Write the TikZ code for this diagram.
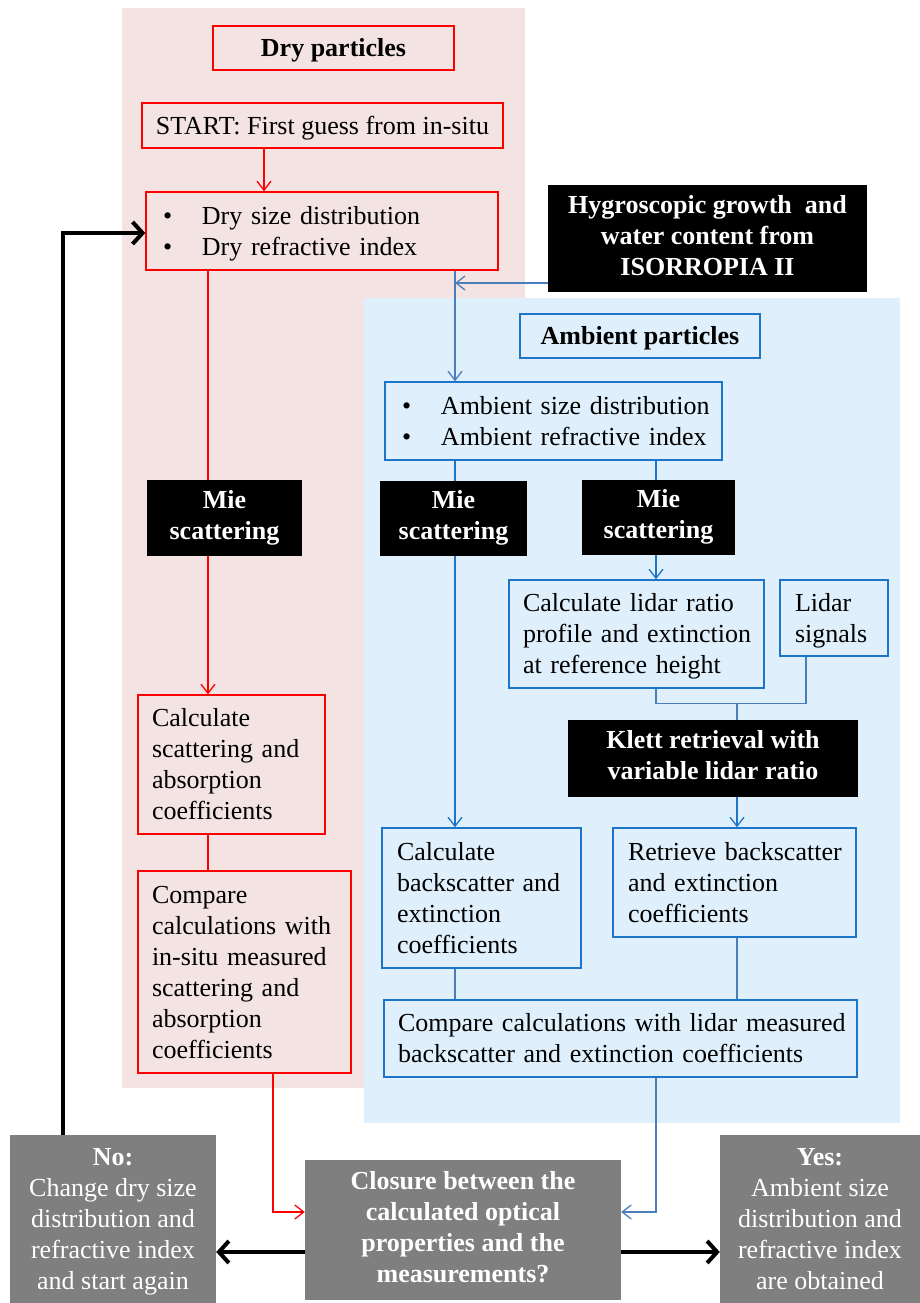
\documentclass[tikz,border=0pt]{standalone}
\usepackage{fontspec}
\setmainfont{Liberation Serif}
\usetikzlibrary{arrows.meta}
\definecolor{pinkbg}{HTML}{F4E3E3}
\definecolor{bluebg}{HTML}{DFF0FC}
\definecolor{bred}{HTML}{FF0000}
\definecolor{bblue}{HTML}{1C75C8}
\definecolor{lblue}{HTML}{4A7EBB}
\definecolor{gfill}{HTML}{7F7F7F}
\newcommand\bul[1]{\mbox{\makebox[39pt][l]{•}#1}}
\newcommand\ml[1]{\mbox{#1}}
\newcommand\mystrut{\rule[-6.8pt]{0pt}{31pt}}
\begin{document}
\begin{tikzpicture}[x=1pt,y=-1pt,
  every node/.style={font=\fontsize{26pt}{31pt}\selectfont, inner sep=0pt,
    execute at begin node=\mystrut, execute at end node=\mystrut},
  bfnode/.style={font=\fontsize{26pt}{31pt}\selectfont\bfseries},
  redbox/.style={draw=bred, line width=1.5pt},
  bluebox/.style={draw=bblue, line width=1.5pt},
  blackbox/.style={fill=black, text=white, bfnode, align=center},
  graybox/.style={fill=gfill, text=white, align=center},
  redln/.style={draw=bred, line width=1.3pt},
  blueln/.style={draw=lblue, line width=1.3pt},
  bluelnb/.style={draw=bblue, line width=1.3pt},
  tipped/.style={-{Straight Barb[length=9pt,width=14pt]}},
  blackln/.style={line width=4pt, -{Straight Barb[length=10pt,width=22pt]}},
]
\useasboundingbox (0,0) rectangle (920,1303);
% backgrounds
\fill[pinkbg] (122,8) rectangle (525,1088);
\fill[bluebg] (364,298) rectangle (900,1123);

% nodes
\node[redbox, bfnode, minimum width=241pt, minimum height=44pt] (drypart) at (333.5,48) {Dry particles};
\node[redbox, minimum width=361pt, minimum height=45pt] (start) at (322.5,125.5) {START: First guess from in-situ};
\node[redbox, minimum height=78pt, inner xsep=17pt, text width=318pt, align=left] (dry) at (322,231) {\bul{Dry size distribution}\\\bul{Dry refractive index}};
\node[blackbox, minimum width=319pt, minimum height=107pt] (hygro) at (707.5,238.5) {Hygroscopic growth~ and\\water content from\\ISORROPIA II};
\node[bluebox, bfnode, minimum width=240pt, minimum height=44pt] (ambpart) at (640,336) {Ambient particles};
\node[bluebox, minimum height=78pt, inner xsep=17pt, text width=303pt, align=left] (amb) at (553.5,421) {\bul{Ambient size distribution}\\\bul{Ambient refractive index}};
\node[blackbox, minimum width=155pt, minimum height=76pt] (mieR) at (224.5,518) {Mie\\scattering};
\node[blackbox, minimum width=147pt, minimum height=75pt] (mieA) at (453.5,518.5) {Mie\\scattering};
\node[blackbox, minimum width=153pt, minimum height=75pt] (mieB) at (658.5,517.5) {Mie\\scattering};
\node[bluebox, minimum height=108pt, inner xsep=14pt, text width=227pt, align=left] (ratio) at (636.5,634) {\ml{Calculate lidar ratio}\\\ml{profile and extinction}\\\ml{at reference height}};
\node[bluebox, minimum height=76pt, inner xsep=15pt, text width=78pt, align=left] (signals) at (834,618) {\ml{Lidar}\\\ml{signals}};
\node[blackbox, minimum width=290pt, minimum height=77pt] (klett) at (713,758.5) {Klett retrieval with\\variable lidar ratio};
\node[bluebox, minimum height=140pt, inner xsep=15pt, text width=169pt, align=left] (calcbs) at (481.5,898) {\ml{Calculate}\\\ml{backscatter and}\\\ml{extinction}\\\ml{coefficients}};
\node[bluebox, minimum height=109pt, inner xsep=15pt, text width=213pt, align=left] (retr) at (734.5,882.5) {\ml{Retrieve backscatter}\\\ml{and extinction}\\\ml{coefficients}};
\node[bluebox, minimum height=77pt, inner xsep=14pt, text width=445pt, align=left] (cmpl) at (620.5,1038.5) {\ml{Compare calculations with lidar measured}\\\ml{backscatter and extinction coefficients}};
\node[redbox, minimum height=139pt, inner xsep=14pt, text width=159pt, align=left] (calcsc) at (231.5,764.5) {\ml{Calculate}\\\ml{scattering and}\\\ml{absorption}\\\ml{coefficients}};
\node[redbox, minimum height=202pt, inner xsep=14pt, text width=185pt, align=left] (cmpi) at (244.5,972) {\ml{Compare}\\\ml{calculations with}\\\ml{in-situ measured}\\\ml{scattering and}\\\ml{absorption}\\\ml{coefficients}};
\node[graybox, bfnode, minimum width=316pt, minimum height=140pt] (closure) at (463,1230) {Closure between the\\calculated optical\\properties and the\\measurements?};
\node[graybox, minimum width=206pt, minimum height=174pt] (no) at (113,1222) {\textbf{No:}\\Change dry size\\distribution and\\refractive index\\and start again};
\node[graybox, minimum width=200pt, minimum height=174pt] (yes) at (820,1222) {\textbf{Yes:}\\Ambient size\\distribution and\\refractive index\\are obtained};

% red connectors
\coordinate (a1) at ([xshift=-58.5pt]start.south);
\draw[redln, tipped] (a1) -- (a1 |- dry.north);
\coordinate (a2) at ([xshift=-114pt]dry.south);
\draw[redln] (a2) -- (a2 |- mieR.north);
\coordinate (a3) at (a2 |- mieR.south);
\draw[redln, tipped] (a3) -- (a3 |- calcsc.north);
\coordinate (a4) at (a2 |- calcsc.south);
\draw[redln] (a4) -- (a4 |- cmpi.north);
\coordinate (a5) at ([xshift=28.5pt]cmpi.south);
\draw[redln, tipped] (a5) |- ([yshift=18pt]closure.west);

% blue connectors
\coordinate (b1) at ([xshift=133pt]dry.south);
\coordinate (h1) at ([yshift=-44.5pt]hygro.west);
\draw[blueln, tipped] (h1) -- (h1 -| b1);
\draw[blueln, tipped] (b1) -- (b1 |- amb.north);
\coordinate (b2) at (b1 |- amb.south);
\draw[bluelnb] (b2) -- (b2 |- mieA.north);
\coordinate (b3) at (b1 |- mieA.south);
\draw[bluelnb, tipped] (b3) -- (b3 |- calcbs.north);
\coordinate (b4) at ([xshift=102.5pt]amb.south);
\draw[bluelnb] (b4) -- (b4 |- mieB.north);
\coordinate (b5) at (b4 |- mieB.south);
\draw[bluelnb, tipped] (b5) -- (b5 |- ratio.north);
\coordinate (b6) at (b4 |- ratio.south);
\coordinate (b7) at ([xshift=-28pt]signals.south);
\coordinate (j1) at ([yshift=-15pt]b6);
\draw[blueln] (b6) -- (j1) -| (b7);
\coordinate (b8) at ([xshift=24pt]klett.north);
\draw[blueln] (b8) -- (b8 |- j1);
\coordinate (b9) at (b8 |- klett.south);
\draw[bluelnb, tipped] (b9) -- (b9 |- retr.north);
\coordinate (b10) at (b1 |- calcbs.south);
\draw[blueln] (b10) -- (b10 |- cmpl.north);
\coordinate (b11) at (b8 |- retr.south);
\draw[blueln] (b11) -- (b11 |- cmpl.north);
\coordinate (b12) at (b4 |- cmpl.south);
\draw[blueln, tipped] (b12) |- ([yshift=18pt]closure.east);

% black connectors
\coordinate (k1) at ([yshift=-22pt]closure.west);
\draw[blackln] (k1) -- (k1 -| no.east);
\coordinate (k2) at ([yshift=-22pt]closure.east);
\draw[blackln] (k2) -- (k2 -| yes.west);
\coordinate (k3) at ([xshift=-50pt]no.north);
\draw[blackln] (k3) |- ([yshift=-2pt]dry.west);
\end{tikzpicture}
\end{document}
